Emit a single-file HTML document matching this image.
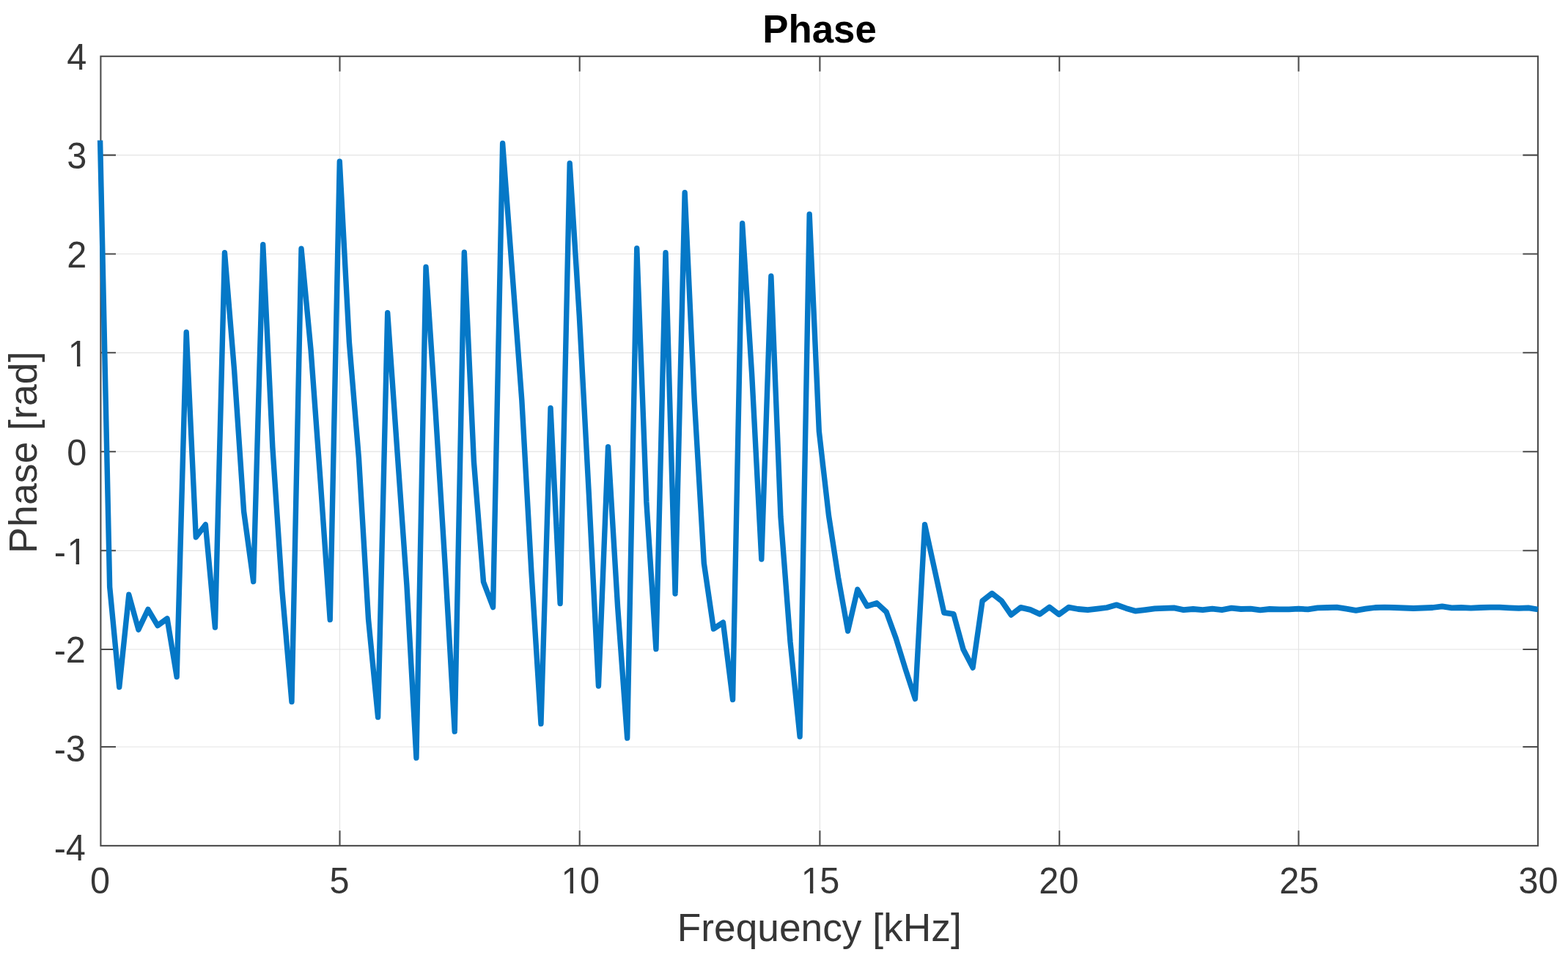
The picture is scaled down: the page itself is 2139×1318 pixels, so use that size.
<!DOCTYPE html>
<html lang="en"><head><meta charset="utf-8"><title>Phase</title>
<style>html,body{margin:0;padding:0;background:#fff}body{width:2139px;height:1318px;overflow:hidden}svg{display:block}</style></head>
<body>
<svg width="2139" height="1318" viewBox="0 0 2139 1318">
<rect width="2139" height="1318" fill="#ffffff"/>
<path d="M463.50 76.80V1153.90M790.70 76.80V1153.90M1118.40 76.80V1153.90M1445.20 76.80V1153.90M1771.50 76.80V1153.90M137.40 1019.00H2098.00M137.40 886.00H2098.00M137.40 751.30H2098.00M137.40 616.20H2098.00M137.40 481.30H2098.00M137.40 346.50H2098.00M137.40 211.60H2098.00" stroke="#e3e3e3" stroke-width="1.2" fill="none"/>
<path d="M463.50 1153.90v-20.6M463.50 76.80v20.6M790.70 1153.90v-20.6M790.70 76.80v20.6M1118.40 1153.90v-20.6M1118.40 76.80v20.6M1445.20 1153.90v-20.6M1445.20 76.80v20.6M1771.50 1153.90v-20.6M1771.50 76.80v20.6M137.40 1019.00h20.6M2098.00 1019.00h-20.6M137.40 886.00h20.6M2098.00 886.00h-20.6M137.40 751.30h20.6M2098.00 751.30h-20.6M137.40 616.20h20.6M2098.00 616.20h-20.6M137.40 481.30h20.6M2098.00 481.30h-20.6M137.40 346.50h20.6M2098.00 346.50h-20.6M137.40 211.60h20.6M2098.00 211.60h-20.6" stroke="#4c4c4c" stroke-width="2.1" fill="none"/>
<rect x="137.40" y="76.80" width="1960.60" height="1077.10" fill="none" stroke="#4c4c4c" stroke-width="2.1"/>
<path transform="scale(0.95 1)" d="M143.79 191.5 L157.55 800.9 L171.30 937.4 L185.06 811.5 L198.81 859.0 L212.57 831.5 L226.32 853.5 L240.08 844.0 L253.84 923.4 L267.59 453.4 L281.35 732.9 L295.10 715.9 L308.86 855.9 L322.61 344.9 L336.37 504.5 L350.13 697.9 L363.88 793.4 L377.64 333.9 L391.39 609.9 L405.15 805.9 L418.91 957.4 L432.66 339.4 L446.42 477.9 L460.17 656.9 L473.93 845.4 L487.68 220.4 L501.45 466.9 L515.22 624.9 L528.99 844.9 L542.76 978.4 L556.52 426.9 L570.29 613.9 L584.06 797.9 L597.83 1033.9 L611.60 364.4 L625.36 560.9 L639.13 770.9 L652.90 997.9 L666.67 344.4 L680.44 629.9 L694.20 793.9 L707.97 828.4 L721.74 195.7 L735.51 370.9 L749.28 545.9 L763.04 779.9 L776.81 987.4 L790.58 556.9 L804.35 823.4 L818.12 222.9 L831.88 430.9 L845.65 674.9 L859.42 935.9 L873.19 609.9 L886.96 827.9 L900.72 1006.9 L914.49 338.9 L928.26 684.9 L942.03 885.4 L955.80 344.9 L969.56 809.9 L983.33 262.9 L997.10 545.9 L1010.87 768.4 L1024.64 857.9 L1038.40 849.4 L1052.17 954.4 L1065.94 304.9 L1079.71 511.9 L1093.48 762.9 L1107.24 376.9 L1121.01 704.9 L1134.78 875.9 L1148.55 1004.9 L1162.32 292.4 L1176.12 588.4 L1189.92 702.9 L1203.72 787.9 L1217.53 860.9 L1231.33 804.4 L1245.13 826.9 L1258.93 822.9 L1272.74 834.9 L1286.54 870.9 L1300.34 913.4 L1314.14 953.4 L1327.95 715.9 L1341.75 775.9 L1355.55 835.9 L1369.36 837.9 L1383.16 885.9 L1396.91 910.9 L1410.67 819.9 L1424.42 809.7 L1438.18 819.9 L1451.93 838.9 L1465.68 828.9 L1479.44 831.9 L1493.19 837.9 L1506.95 828.4 L1520.70 838.3 L1534.46 828.7 L1548.21 831.0 L1561.96 832.1 L1575.72 830.7 L1589.47 829.0 L1603.23 825.3 L1616.98 829.9 L1630.74 833.7 L1644.49 832.1 L1658.25 830.4 L1672.00 829.9 L1685.75 829.4 L1699.51 832.1 L1713.26 831.0 L1727.02 832.1 L1740.77 830.7 L1754.53 832.1 L1768.28 829.7 L1782.04 831.0 L1795.79 830.7 L1809.54 832.4 L1823.30 831.0 L1837.05 831.4 L1850.81 831.4 L1864.56 830.7 L1878.32 831.4 L1892.07 829.4 L1905.82 829.0 L1919.58 828.7 L1933.33 830.7 L1947.09 832.9 L1960.84 830.7 L1974.60 829.0 L1988.35 828.7 L2002.11 829.0 L2015.86 829.5 L2029.61 830.0 L2043.37 829.5 L2057.12 829.0 L2070.88 827.3 L2084.63 829.4 L2098.39 829.0 L2112.14 829.7 L2125.89 829.0 L2139.65 828.7 L2153.40 828.7 L2167.16 829.4 L2180.91 829.9 L2194.67 829.4 L2208.42 831.5" stroke="#0578c7" stroke-width="7.8" stroke-linejoin="round" stroke-linecap="butt" fill="none"/>
<text transform="translate(123.09 1219.30) scale(1 1.04)" font-family="'Liberation Sans', Arial, Helvetica, sans-serif" font-size="48.6" fill="#363636">0</text>
<text transform="translate(449.49 1219.30) scale(1 1.04)" font-family="'Liberation Sans', Arial, Helvetica, sans-serif" font-size="48.6" fill="#363636">5</text>
<text transform="translate(765.47 1219.30) scale(1 1.04)" font-family="'Liberation Sans', Arial, Helvetica, sans-serif" font-size="48.6" fill="#363636">1<tspan dx="-1.60">0</tspan></text>
<rect x="767.84" y="1214.12" width="9.75" height="6.68" fill="#fff"/>
<rect x="782.09" y="1214.12" width="9.59" height="6.68" fill="#fff"/>
<text transform="translate(1092.77 1219.30) scale(1 1.04)" font-family="'Liberation Sans', Arial, Helvetica, sans-serif" font-size="48.6" fill="#363636">1<tspan dx="-1.60">5</tspan></text>
<rect x="1095.14" y="1214.12" width="9.75" height="6.68" fill="#fff"/>
<rect x="1109.39" y="1214.12" width="9.59" height="6.68" fill="#fff"/>
<text transform="translate(1417.37 1219.30) scale(1 1.04)" font-family="'Liberation Sans', Arial, Helvetica, sans-serif" font-size="48.6" fill="#363636">20</text>
<text transform="translate(1745.17 1219.30) scale(1 1.04)" font-family="'Liberation Sans', Arial, Helvetica, sans-serif" font-size="48.6" fill="#363636">25</text>
<text transform="translate(2071.47 1219.30) scale(1 1.04)" font-family="'Liberation Sans', Arial, Helvetica, sans-serif" font-size="48.6" fill="#363636">30</text>
<text transform="translate(73.69 1174.10) scale(1 1.04)" font-family="'Liberation Sans', Arial, Helvetica, sans-serif" font-size="48.6" fill="#363636">-4</text>
<text transform="translate(73.69 1039.00) scale(1 1.04)" font-family="'Liberation Sans', Arial, Helvetica, sans-serif" font-size="48.6" fill="#363636">-3</text>
<text transform="translate(73.69 904.44) scale(1 1.04)" font-family="'Liberation Sans', Arial, Helvetica, sans-serif" font-size="48.6" fill="#363636">-2</text>
<text transform="translate(73.69 769.60) scale(1 1.04)" font-family="'Liberation Sans', Arial, Helvetica, sans-serif" font-size="48.6" fill="#363636">-<tspan dx="1.60">1</tspan></text>
<rect x="93.84" y="764.42" width="9.75" height="6.68" fill="#fff"/>
<rect x="108.09" y="764.42" width="9.59" height="6.68" fill="#fff"/>
<text transform="translate(91.27 634.76) scale(1 1.04)" font-family="'Liberation Sans', Arial, Helvetica, sans-serif" font-size="48.6" fill="#363636">0</text>
<text transform="translate(92.87 499.92) scale(1 1.04)" font-family="'Liberation Sans', Arial, Helvetica, sans-serif" font-size="48.6" fill="#363636">1</text>
<rect x="95.24" y="494.74" width="9.75" height="6.68" fill="#fff"/>
<rect x="109.49" y="494.74" width="9.59" height="6.68" fill="#fff"/>
<text transform="translate(91.27 365.08) scale(1 1.04)" font-family="'Liberation Sans', Arial, Helvetica, sans-serif" font-size="48.6" fill="#363636">2</text>
<text transform="translate(91.27 230.24) scale(1 1.04)" font-family="'Liberation Sans', Arial, Helvetica, sans-serif" font-size="48.6" fill="#363636">3</text>
<text transform="translate(91.27 95.40) scale(1 1.04)" font-family="'Liberation Sans', Arial, Helvetica, sans-serif" font-size="48.6" fill="#363636">4</text>
<text transform="translate(1117.7 1284.0) scale(1 1.02)" font-family="'Liberation Sans', Arial, Helvetica, sans-serif" font-size="53.3" fill="#363636" text-anchor="middle">Frequency [kHz]</text>
<text transform="translate(50 617.0) rotate(-90) scale(1 0.99)" font-family="'Liberation Sans', Arial, Helvetica, sans-serif" font-size="53.3" letter-spacing="0.3" fill="#363636" text-anchor="middle">Phase [rad]</text>
<text transform="translate(1118.0 57.8) scale(1 1.02)" font-family="'Liberation Sans', Arial, Helvetica, sans-serif" font-size="52.8" font-weight="bold" fill="#000000" text-anchor="middle">Phase</text>
</svg>
</body></html>
